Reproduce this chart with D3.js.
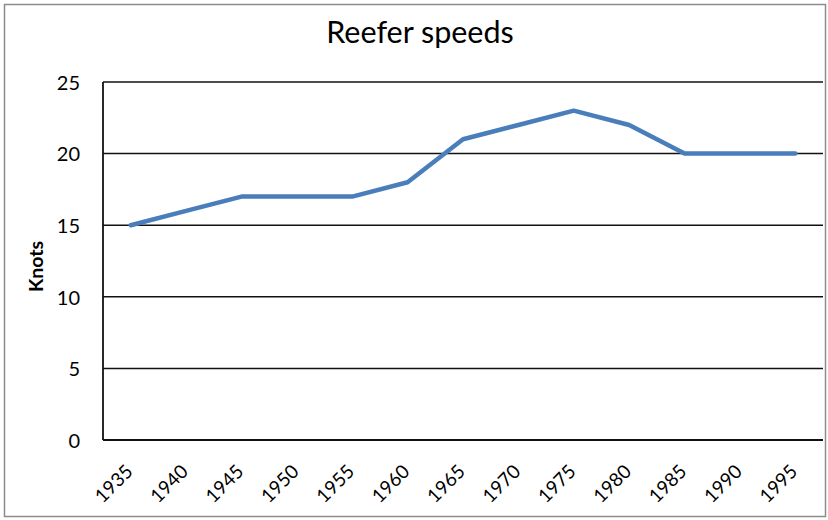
<!DOCTYPE html>
<html>
<head>
<meta charset="utf-8">
<script src="https://cdn.jsdelivr.net/npm/d3@7"></script>
<style>
  html, body { margin: 0; padding: 0; background: #fff; }
  svg { display: block; }
  text { font-family: Lato, "Open Sans", sans-serif; fill: #000; }
</style>
</head>
<body>
<svg id="chart" width="828" height="520"></svg>
<script>
// Reefer ship service speeds by year
const years = ["1935", "1940", "1945", "1950", "1955", "1960", "1965", "1970", "1975", "1980", "1985", "1990", "1995"];
const knots = [15, 16, 17, 17, 17, 18, 21, 22, 23, 22, 20, 20, 20];
const yTicks = [0, 5, 10, 15, 20, 25];

const svg = d3.select("#chart");
const W = 828, H = 520;
const plot = { left: 103, right: 823, top: 82, bottom: 440 };

// outer frame
svg.append("rect")
  .attr("x", 4.5).attr("y", 4.5)
  .attr("width", W - 7).attr("height", H - 8)
  .attr("fill", "#fff").attr("stroke", "#8c8c8c").attr("stroke-width", 1.5);

const x = d3.scaleBand().domain(years).range([plot.left, plot.right]);
const y = d3.scaleLinear().domain([0, 25]).range([plot.bottom, plot.top]);

// horizontal gridlines
svg.append("g")
  .selectAll("line")
  .data(yTicks)
  .join("line")
  .attr("x1", plot.left).attr("x2", plot.right)
  .attr("y1", d => y(d)).attr("y2", d => y(d))
  .attr("stroke", "#111").attr("stroke-width", d => d === 0 ? 2.2 : 1.5);

// y axis line
svg.append("line")
  .attr("x1", plot.left).attr("x2", plot.left)
  .attr("y1", plot.top).attr("y2", plot.bottom)
  .attr("stroke", "#111").attr("stroke-width", 1.8);

// y tick labels
const yAxis = d3.axisLeft(y).tickValues(yTicks).tickSize(0).tickPadding(0);
const gy = svg.append("g").attr("transform", `translate(${plot.left - 23},0)`).call(yAxis);
gy.select(".domain").remove();
gy.selectAll("text")
  .attr("font-family", "Lato, sans-serif").attr("font-size", 20).attr("fill", "#000")
  .attr("dy", "0.36em");

// x tick labels, rotated
const xAxis = d3.axisBottom(x).tickSize(0).tickPadding(0);
const gx = svg.append("g").attr("transform", `translate(0,${plot.bottom})`).call(xAxis);
gx.select(".domain").remove();
gx.selectAll("text")
  .attr("font-family", "Lato, sans-serif").attr("font-size", 19).attr("fill", "#000")
  .attr("text-anchor", "end")
  .attr("y", 0).attr("dy", 0)
  .attr("transform", "translate(3.3,32.7) rotate(-45)");

// title
svg.append("text")
  .attr("x", 420).attr("y", 43)
  .attr("text-anchor", "middle")
  .attr("font-size", 30.5)
  .text("Reefer speeds");

// y axis title
svg.append("text")
  .attr("transform", `translate(43,${(243 + 290) / 2}) rotate(-90)`)
  .attr("text-anchor", "middle")
  .attr("font-size", 19.5).attr("font-weight", "bold")
  .text("Knots");

// series line
const line = d3.line()
  .x((d, i) => x(years[i]) + x.bandwidth() / 2)
  .y(d => y(d));

svg.append("path")
  .datum(knots)
  .attr("d", line)
  .attr("fill", "none")
  .attr("stroke", "#4a7ebb")
  .attr("stroke-width", 4.5)
  .attr("stroke-linejoin", "round")
  .attr("stroke-linecap", "round");
</script>
</body>
</html>
